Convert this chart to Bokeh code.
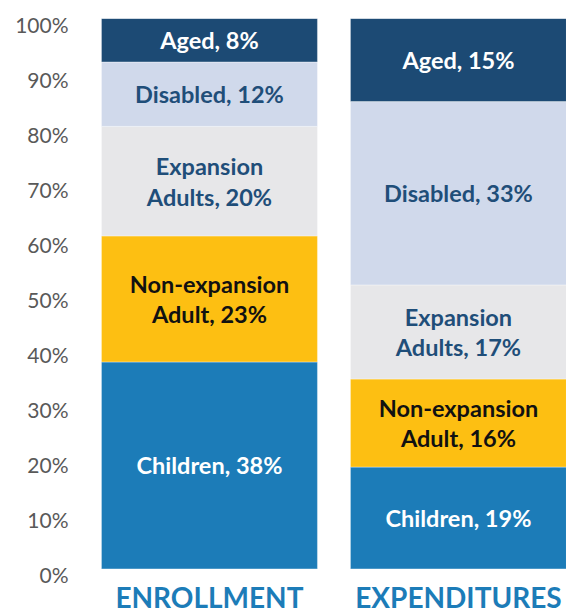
import numpy as np
from bokeh.plotting import figure
from bokeh.models import (ColumnDataSource, FixedTicker, PrintfTickFormatter, LinearAxis,
                          Range1d)
from bokeh.core.properties import value
from bokeh.embed import file_html
from bokeh.resources import INLINE

categories = ["ENROLLMENT", "EXPENDITURES"]
groups = ["Children", "Non-expansion Adult", "Expansion Adults", "Disabled", "Aged"]
enrollment = [37.6, 22.9, 19.9, 11.7, 7.9]
expenditures = [18.5, 16.0, 17.1, 33.3, 15.1]
enrollment_labels = ["Children, 38%", "Non-expansion\nAdult, 23%", "Expansion\nAdults, 20%",
                     "Disabled, 12%", "Aged, 8%"]
expenditures_labels = ["Children, 19%", "Non-expansion\nAdult, 16%", "Expansion\nAdults, 17%",
                       "Disabled, 33%", "Aged, 15%"]
y_ticks = [0, 10, 20, 30, 40, 50, 60, 70, 80, 90, 100]

colors = ["#1C7CB8", "#FDBF12", "#E7E7E9", "#D0D9EB", "#1C4A74"]
text_colors = ["#FFFFFF", "#111111", "#1F4E79", "#1F4E79", "#FFFFFF"]

FONT = "Lato"

p = figure(width=566, height=616, output_backend="svg", toolbar_location=None,
           x_range=(-0.538, 1.434), y_range=(-1.2, 100), y_axis_location=None,
           min_border_left=75, min_border_right=0, min_border_top=18, min_border_bottom=38)
p.outline_line_color = None
p.xgrid.visible = False
p.ygrid.visible = False
p.background_fill_color = "white"

# tick labels sit slightly below their gridline positions, as in the original
p.extra_y_ranges = {"lab": Range1d(-0.2, 101)}

xs, bottoms, tops, fills, labels, tcolors = [], [], [], [], [], []
for ci, (vals, labs) in enumerate([(enrollment, enrollment_labels), (expenditures, expenditures_labels)]):
    v = np.array(vals)
    top = np.cumsum(v)
    bot = top - v
    for gi in range(len(groups)):
        xs.append(ci)
        bottoms.append(bot[gi])
        tops.append(top[gi])
        fills.append(colors[gi])
        labels.append(labs[gi])
        tcolors.append(text_colors[gi])

src = ColumnDataSource(dict(x=xs, bottom=bottoms, top=tops, fill=fills, label=labels,
                            tcolor=tcolors,
                            mid=[(b + t) / 2 for b, t in zip(bottoms, tops)]))

p.vbar(x="x", bottom="bottom", top="top", width=0.8675, fill_color="fill",
       line_color="white", line_width=0.6, line_alpha=0.6, source=src)

p.text(x="x", y="mid", text="label", text_color="tcolor", source=src,
       text_font=value(FONT), text_font_style="bold", text_font_size="23.5px",
       text_align="center", text_baseline="middle", text_line_height=1.1)

# y axis
yaxis = LinearAxis(y_range_name="lab")
yaxis.ticker = FixedTicker(ticks=y_ticks)
yaxis.formatter = PrintfTickFormatter(format="%d%%")
yaxis.axis_line_color = None
yaxis.major_tick_line_color = None
yaxis.minor_tick_line_color = None
yaxis.major_tick_out = 0
yaxis.major_tick_in = 0
yaxis.major_label_standoff = 7
yaxis.major_label_text_font = FONT
yaxis.major_label_text_font_size = "21px"
yaxis.major_label_text_color = "#595959"
p.add_layout(yaxis, "left")

# x axis
p.xaxis.ticker = FixedTicker(ticks=[0, 1])
p.xaxis.major_label_overrides = {0: categories[0], 1: categories[1]}
p.xaxis.axis_line_color = None
p.xaxis.major_tick_line_color = None
p.xaxis.minor_tick_line_color = None
p.xaxis.major_tick_out = 0
p.xaxis.major_tick_in = 0
p.xaxis.major_label_standoff = 4
p.xaxis.major_label_text_font = FONT
p.xaxis.major_label_text_font_style = "bold"
p.xaxis.major_label_text_font_size = "28px"
p.xaxis.major_label_text_color = "#1C7CB8"

open("out.html", "w").write(file_html(p, INLINE))
